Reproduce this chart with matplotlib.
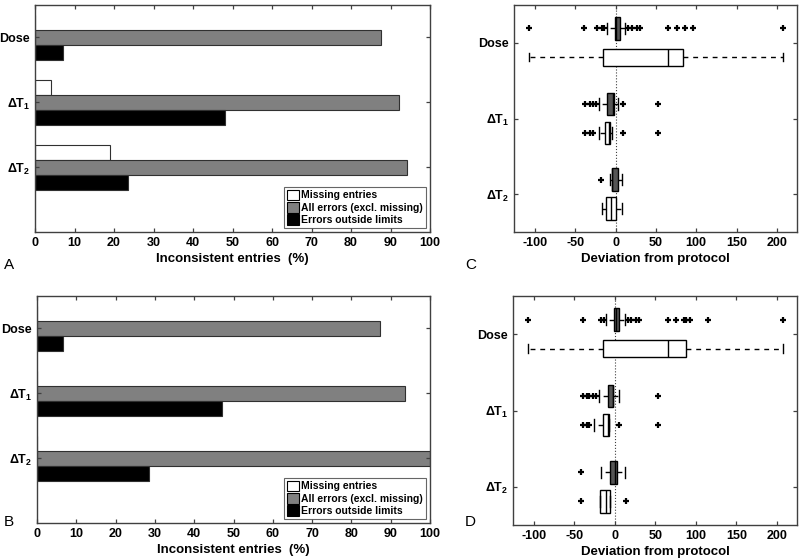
import numpy as np
import matplotlib
matplotlib.use("Agg")
import matplotlib.pyplot as plt
from matplotlib.patches import Patch

plt.rcParams['font.family'] = ['Liberation Sans', 'DejaVu Sans']
plt.rcParams['font.weight'] = 'bold'
plt.rcParams['mathtext.fontset'] = 'custom'
plt.rcParams['mathtext.rm'] = 'Liberation Sans'
plt.rcParams['mathtext.bf'] = 'Liberation Sans:bold'

# ---- data ----
categories = ['Dose', r'ΔT$_{\mathbf{1}}$', r'ΔT$_{\mathbf{2}}$']
series_names = ['Missing entries', 'All errors (excl. missing)', 'Errors outside limits']

missing_A = [0, 4, 19]
all_errors_A = [87.5, 92.2, 94.2]
outside_A = [7, 48.2, 23.5]

missing_B = [0, 0, 0]
all_errors_B = [87.2, 93.7, 100]
outside_B = [6.5, 47.2, 28.5]

# box stats, order: Dose dark, Dose white, dT1 dark, dT1 white, dT2 dark, dT2 white
box_q1_C = [-1, -16, -11, -13, -5, -12]
box_med_C = [1, 65, -3, -8, -4.5, -6]
box_q3_C = [5.5, 84, -2, -7, 2.5, 0.5]
box_lo_C = [-11, -107, -20, -20, -7, -17]
box_hi_C = [12, 208, 3, -5, 7.5, 7.5]
box_fliers_C = [[-107, -39, -23, -17, -14, 16, 20, 26, 30, 65, 76, 86, 96, 208],
                [],
                [-38, -32, -28, -24, 9.5, 53],
                [-38, -32, -28, 9.5, 53],
                [-18],
                []]

box_q1_D = [-1, -15, -9, -15, -6, -18.5]
box_med_D = [1, 65, -3, -8, 0, -11]
box_q3_D = [5.5, 88, -2, -7.5, 2, -6]
box_lo_D = [-11, -107, -20, -25.5, -17, -18.5]
box_hi_D = [12, 208, 5.5, -7.5, 13, -6]
box_fliers_D = [[-107, -39, -17, -14, 16, 20, 26, 30, 65, 75, 85, 88, 93, 115, 208],
                [],
                [-39, -35, -32, -27.6, -24, 53],
                [-39, -35, -32, 5.5, 53],
                [-42],
                [-42, 13.7]]

bar_colors = ['white', '#808080', 'black']
box_colors = ['#555555', 'white', '#555555', 'white', '#555555', 'white']
box_widths = [0.3, 0.22, 0.3, 0.3, 0.3, 0.3]


def style_axes(ax):
    for s in ax.spines.values():
        s.set_color('#404040')
        s.set_linewidth(1.0)
    ax.tick_params(direction='in', top=True, right=True, length=3,
                   color='#404040', labelsize=9, width=0.9)


def bar_panel(ax, values_list):
    y = np.arange(1, len(categories) + 1)
    h = 0.23
    offsets = [-h, 0, h]
    for vals, off, col, name in zip(values_list, offsets, bar_colors, series_names):
        ax.barh(y + off, vals, height=h, color=col, edgecolor='#303030',
                linewidth=0.8, label=name)
    ax.set_ylim(4.0, 0.5)
    ax.set_xlim(0, 100)
    ax.set_xticks(np.arange(0, 101, 10))
    ax.set_yticks(y)
    ax.set_yticklabels(categories)
    ax.set_xlabel('Inconsistent entries  (%)', fontsize=9.5, fontweight='bold', labelpad=3)
    handles = [Patch(facecolor=c, edgecolor='black', linewidth=0.8) for c in bar_colors]
    leg = ax.legend(handles, series_names, loc='lower right', fontsize=7.5,
                    frameon=True, fancybox=False, edgecolor='#404040',
                    handlelength=1.2, handleheight=1.2, handletextpad=0.2,
                    borderpad=0.25, labelspacing=0.15, borderaxespad=0.4)
    leg.get_frame().set_linewidth(0.8)
    style_axes(ax)


def box_panel(ax, q1, med, q3, lo, hi, fliers):
    centers = np.arange(1, len(categories) + 1)
    positions = []
    for c in centers:
        positions += [c - 0.19, c + 0.19]
    stats = []
    for i in range(len(q1)):
        stats.append(dict(q1=q1[i], med=med[i], q3=q3[i], whislo=lo[i],
                          whishi=hi[i], fliers=fliers[i]))
    ax.axvline(0, color='#404040', linestyle=':', linewidth=0.8, zorder=0)
    bp = ax.bxp(stats, positions=positions, widths=box_widths,
                orientation='horizontal', patch_artist=True,
                capwidths=[w * 0.5 for w in box_widths],
                boxprops=dict(edgecolor='black', linewidth=1.0),
                medianprops=dict(color='black', linewidth=1.0),
                whiskerprops=dict(color='black', linewidth=1.0, linestyle=(0, (3.5, 3.5))),
                capprops=dict(color='black', linewidth=1.0),
                flierprops=dict(marker='+', markersize=4.5, markeredgewidth=1.6,
                                markeredgecolor='black', linestyle='none'))
    for patch, col in zip(bp['boxes'], box_colors):
        patch.set_facecolor(col)
        patch.set_zorder(2)
    ax.set_ylim(3.5, 0.5)
    ax.set_xlim(-126, 225)
    ax.set_xticks([-100, -50, 0, 50, 100, 150, 200])
    ax.set_xticklabels(['-100', '-50', '0', '50', '100', '150', '200'])
    ax.set_yticks(centers)
    ax.set_yticklabels(categories)
    ax.set_xlabel('Deviation from protocol', fontsize=9.5, fontweight='bold', labelpad=3)
    style_axes(ax)


fig = plt.figure(figsize=(8, 5.58), dpi=100)
W, H = 800.0, 558.0


def add_ax(left, top, right, bottom):
    return fig.add_axes([left / W, 1 - bottom / H, (right - left) / W, (bottom - top) / H])


axA = add_ax(35, 5, 430, 232)
axB = add_ax(37, 296, 430, 523)
axC = add_ax(514, 5, 797, 232)
axD = add_ax(513, 296, 797, 525)

bar_panel(axA, [missing_A, all_errors_A, outside_A])
bar_panel(axB, [missing_B, all_errors_B, outside_B])
box_panel(axC, box_q1_C, box_med_C, box_q3_C, box_lo_C, box_hi_C, box_fliers_C)
box_panel(axD, box_q1_D, box_med_D, box_q3_D, box_lo_D, box_hi_D, box_fliers_D)

for label, x, y in [('A', 4, 265), ('B', 4, 522), ('C', 465, 265), ('D', 465, 522)]:
    fig.text(x / W, 1 - y / H, label, fontsize=11, fontweight='normal',
             ha='left', va='center')

fig.savefig('out.png', dpi=100)
